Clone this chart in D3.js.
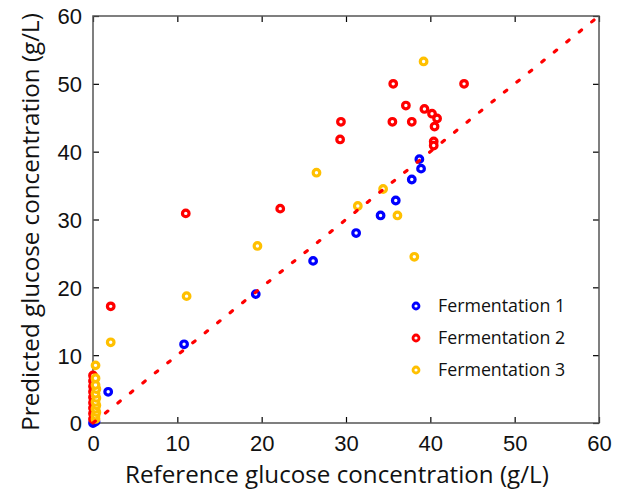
<!DOCTYPE html>
<html>
<head>
<meta charset="utf-8">
<script src="https://cdn.jsdelivr.net/npm/d3@7"></script>
<style>
  body { margin: 0; background: #fff; }
  svg { font-family: "Open Sans", "Noto Sans", sans-serif; }
</style>
</head>
<body>
<svg id="chart"></svg>
<script>
// Reference vs predicted glucose (g/L)
var ferm1 = [
  [0, 0], [0.3, 0.2], [0.1, 0.6], [1.8, 4.6], [10.8, 11.6], [19.3, 19.0],
  [26.1, 23.9], [31.2, 28.0], [34.1, 30.6], [35.9, 32.8], [37.8, 35.9],
  [38.9, 37.5], [38.7, 38.9]
];
var ferm2 = [
  [0, 7.0], [0, 6.2], [0, 5.4], [0, 4.6], [0, 3.8], [0, 3.0], [0, 2.2], [0, 1.4], [0, 0.6],
  [2.1, 17.2], [11.0, 30.9], [22.2, 31.6], [29.3, 41.8], [29.4, 44.4],
  [35.5, 44.4], [35.6, 50.0], [37.1, 46.8], [37.8, 44.4], [39.3, 46.3],
  [40.2, 45.6], [40.8, 44.9], [40.5, 43.7], [40.4, 41.5], [40.4, 40.9], [44.0, 50.0]
];
var ferm3 = [
  [0.3, 0.6], [0.3, 1.1], [0.4, 1.6], [0.3, 2.1], [0.4, 2.6], [0.3, 3.1], [0.4, 3.7],
  [0.3, 4.3], [0.4, 5.0], [0.3, 5.6], [0.3, 6.6], [0.3, 8.5], [2.1, 11.9], [11.1, 18.7],
  [19.5, 26.1], [26.5, 36.9], [31.4, 32.0], [34.4, 34.5], [36.1, 30.6], [38.1, 24.5],
  [39.2, 53.3]
];
var seriesNames = ["Fermentation 1", "Fermentation 2", "Fermentation 3"];
var seriesColors = ["#0000ff", "#ff0000", "#ffc000"];
var ticks = [0, 10, 20, 30, 40, 50, 60];

var W = 623, H = 492;
var margin = { top: 16, right: 24, bottom: 69, left: 93 };
var width = W - margin.left - margin.right;
var height = H - margin.top - margin.bottom;

var svg = d3.select("#chart").attr("width", W).attr("height", H);
var g = svg.append("g")
  .attr("transform", "translate(" + margin.left + "," + margin.top + ")");

var x = d3.scaleLinear().domain([0, 60]).range([0, width]);
var y = d3.scaleLinear().domain([0, 60]).range([height, 0]);

// axes with inward ticks, on all four sides
function styleAxis(sel) {
  sel.select(".domain").remove();
  sel.selectAll(".tick line").attr("stroke", "#000").attr("stroke-width", 1.2);
  sel.selectAll(".tick text").style("font-size", "22px").attr("fill", "#111");
}
g.append("g").attr("transform", "translate(0," + height + ")")
  .call(d3.axisBottom(x).tickValues(ticks).tickSizeInner(-6).tickPadding(12))
  .call(styleAxis);
g.append("g")
  .call(d3.axisLeft(y).tickValues(ticks).tickSizeInner(-6).tickPadding(11))
  .call(styleAxis)
  .selectAll(".tick text").attr("dy", "0.36em");
g.append("g")
  .call(d3.axisTop(x).tickValues(ticks).tickSizeInner(-6).tickFormat(""))
  .call(styleAxis);
g.append("g").attr("transform", "translate(" + width + ",0)")
  .call(d3.axisRight(y).tickValues(ticks).tickSizeInner(-6).tickFormat(""))
  .call(styleAxis);

g.append("rect")
  .attr("width", width).attr("height", height)
  .attr("fill", "none").attr("stroke", "#555").attr("stroke-width", 1.5);

// points
[ferm1, ferm2, ferm3].forEach(function (data, i) {
  g.append("g").selectAll("circle")
    .data(data)
    .enter()
    .append("circle")
    .attr("cx", function (d) { return x(d[0]); })
    .attr("cy", function (d) { return y(d[1]); })
    .attr("r", 3.3)
    .attr("fill", "#fff")
    .attr("stroke", seriesColors[i])
    .attr("stroke-width", 3.2);
});

// 1:1 line
g.append("line")
  .attr("x1", x(0)).attr("y1", y(0))
  .attr("x2", x(60)).attr("y2", y(60))
  .attr("stroke", "#ff0000").attr("stroke-width", 3.2)
  .attr("stroke-dasharray", "3,13").attr("stroke-linecap", "round");

// legend
var legend = g.append("g");
seriesNames.forEach(function (name, i) {
  var ly = 290 + i * 32;
  legend.append("circle").attr("cx", 323).attr("cy", ly).attr("r", 3)
    .attr("fill", "#fff").attr("stroke", seriesColors[i]).attr("stroke-width", 2.8);
  legend.append("text").attr("x", 345).attr("y", ly).attr("dy", "0.35em")
    .text(name).style("font-size", "17.8px").attr("fill", "#111");
});

// axis titles
svg.append("text")
  .attr("x", 337).attr("y", 483)
  .attr("text-anchor", "middle")
  .style("font-size", "24.2px").attr("fill", "#111")
  .text("Reference glucose concentration (g/L)");
svg.append("text")
  .attr("transform", "translate(39,222) rotate(-90)")
  .attr("text-anchor", "middle")
  .style("font-size", "24.2px").attr("fill", "#111")
  .text("Predicted glucose concentration (g/L)");
</script>
</body>
</html>
